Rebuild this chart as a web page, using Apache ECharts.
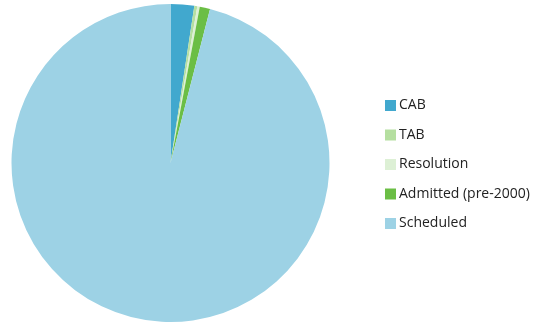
<!DOCTYPE html>
<html><head><meta charset="utf-8">
<script src="https://cdn.jsdelivr.net/npm/echarts@6/dist/echarts.min.js"></script>
<style>html,body{margin:0;padding:0;background:#fff}#c{width:544px;height:326px}</style>
</head><body><div id="c"></div>
<script>
var categories = ["CAB", "TAB", "Resolution", "Admitted (pre-2000)", "Scheduled"];
var values = [2.4, 0.3, 0.25, 1.05, 96.0];
var colors = ["#41A8CE", "#B5DFA0", "#DDF0D5", "#6BBE45", "#9DD2E5"];
var chart = echarts.init(document.getElementById('c'));
chart.setOption({
  animation: false,
  legend: {
    orient: 'vertical', left: 385, top: 98, padding: 0,
    itemWidth: 11, itemHeight: 11, itemGap: 14.5,
    icon: 'rect',
    textStyle: {fontFamily: '"Open Sans", sans-serif', fontSize: 14, lineHeight: 15, color: '#222', padding: [0, 0, 0, -2]},
    data: categories
  },
  series: [{
    type: 'pie', center: [170.5, 163], radius: [0, 159],
    startAngle: 90, clockwise: true,
    label: {show: false}, labelLine: {show: false},
    itemStyle: {borderWidth: 0},
    emphasis: {disabled: true},
    data: categories.map(function(n, i){ return {name: n, value: values[i], itemStyle: {color: colors[i]}}; })
  }]
});
</script></body></html>
